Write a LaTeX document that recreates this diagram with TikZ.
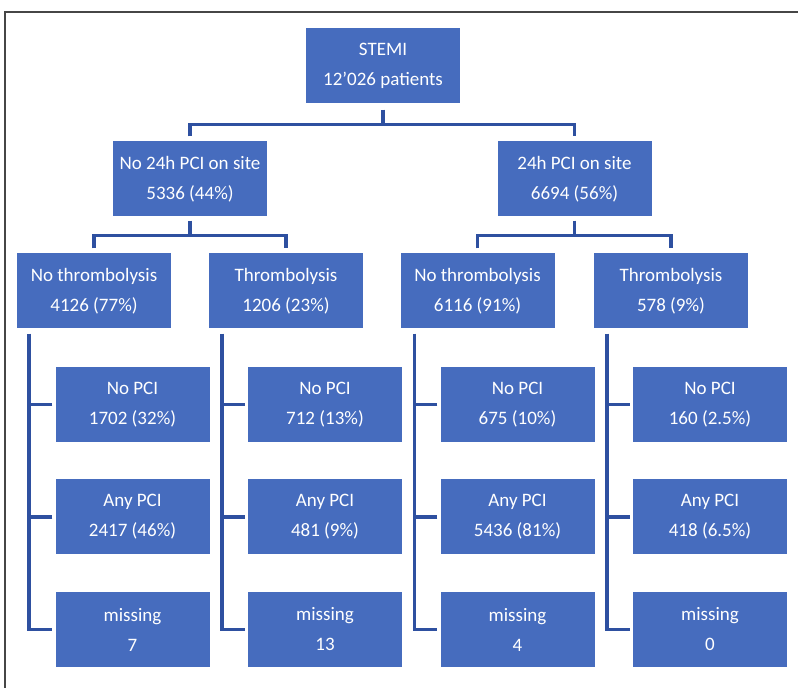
\documentclass[tikz,border=0pt]{standalone}
\usepackage{fontspec}
\setmainfont{Carlito}
\definecolor{boxblue}{RGB}{70,108,190}
\definecolor{lineblue}{RGB}{46,80,160}
\definecolor{framegray}{RGB}{70,70,70}

\begin{document}
\begin{tikzpicture}[x=1pt, y=1pt,
	box/.style = {fill=boxblue, text=white, align=center, minimum width=154pt, minimum height=75pt, inner sep=0pt, font=\fontsize{19}{30}\selectfont},
	link/.style = {draw=lineblue, line width=3.5pt},
	]
	\useasboundingbox (0,0) rectangle (798,688);
	\draw [framegray, line width=1.5pt] (5,-10) |- (810,676);

	\node (stemi)[box] at(383,622) {STEMI\\12’026 patients};

	\node (nosite)[box] at(190,509) {No 24h PCI on site\\5336 (44\%)};
	\node (site)[box] at(574.5,509) {24h PCI on site\\6694 (56\%)};

	\node (nothrombA)[box] at(94,397) {No thrombolysis\\4126 (77\%)};
	\node (thrombB)[box] at(286,397) {Thrombolysis\\1206 (23\%)};
	\node (nothrombC)[box] at(477.5,397) {No thrombolysis\\6116 (91\%)};
	\node (thrombD)[box] at(671,397) {Thrombolysis\\578 (9\%)};

	\node (nopciA)[box] at(132.5,283.5) {No PCI\\1702 (32\%)};
	\node (anypciA)[box] at(132.5,171) {Any PCI\\2417 (46\%)};
	\node (missA)[box] at(132.5,58.5) {missing\\7};

	\node (nopciB)[box] at(325,283.5) {No PCI\\712 (13\%)};
	\node (anypciB)[box] at(325,171) {Any PCI\\481 (9\%)};
	\node (missB)[box] at(325,58.5) {missing\\13};

	\node (nopciC)[box] at(517.5,283.5) {No PCI\\675 (10\%)};
	\node (anypciC)[box] at(517.5,171) {Any PCI\\5436 (81\%)};
	\node (missC)[box] at(517.5,58.5) {missing\\4};

	\node (nopciD)[box] at(710,283.5) {No PCI\\160 (2.5\%)};
	\node (anypciD)[box] at(710,171) {Any PCI\\418 (6.5\%)};
	\node (missD)[box] at(710,58.5) {missing\\0};

	% split of the STEMI patients
	\draw [link] ([yshift=-6pt]stemi.south) -- ++(0,-15) coordinate (j0);
	\draw [link] ([yshift=5pt]nosite.north) |- (j0) -| ([yshift=5pt]site.north);

	% split by thrombolysis
	\draw [link] ([yshift=-4pt]nosite.south) -- ++(0,-15) coordinate (j1);
	\draw [link] ([yshift=5pt]nothrombA.north) |- (j1) -| ([yshift=5pt]thrombB.north);
	\draw [link] ([yshift=-4pt]site.south) -- ++(0,-15) coordinate (j2);
	\draw [link] ([yshift=5pt]nothrombC.north) |- (j2) -| ([yshift=5pt]thrombD.north);

	% brackets down to the PCI boxes
	\draw [link] ([xshift=12pt, yshift=-5pt]nothrombA.south west) |- ([xshift=-3pt]missA.west);
	\draw [link] ([xshift=-3pt]nopciA.west) -- ++(-24,0);
	\draw [link] ([xshift=-3pt]anypciA.west) -- ++(-24,0);

	\draw [link] ([xshift=13pt, yshift=-5pt]thrombB.south west) |- ([xshift=-3pt]missB.west);
	\draw [link] ([xshift=-3pt]nopciB.west) -- ++(-24,0);
	\draw [link] ([xshift=-3pt]anypciB.west) -- ++(-24,0);

	\draw [link] ([xshift=14pt, yshift=-5pt]nothrombC.south west) |- ([xshift=-3pt]missC.west);
	\draw [link] ([xshift=-3pt]nopciC.west) -- ++(-24,0);
	\draw [link] ([xshift=-3pt]anypciC.west) -- ++(-24,0);

	\draw [link] ([xshift=13pt, yshift=-5pt]thrombD.south west) |- ([xshift=-3pt]missD.west);
	\draw [link] ([xshift=-3pt]nopciD.west) -- ++(-24,0);
	\draw [link] ([xshift=-3pt]anypciD.west) -- ++(-24,0);
\end{tikzpicture}
\end{document}
